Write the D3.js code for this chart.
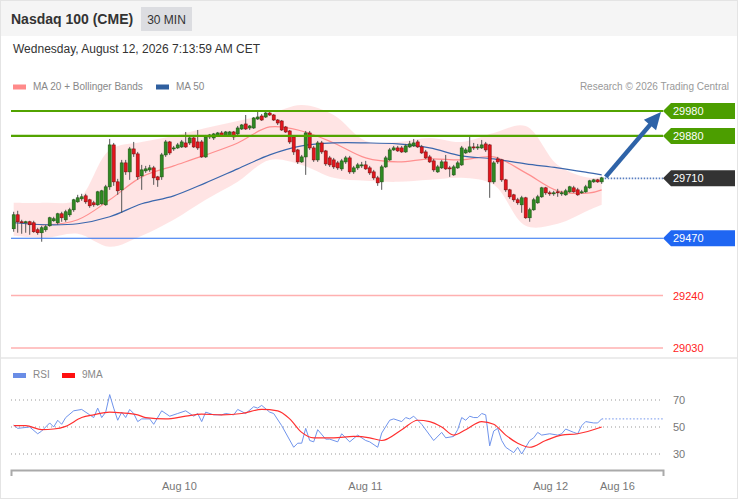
<!DOCTYPE html>
<html>
<head>
<meta charset="utf-8">
<script src="https://cdn.jsdelivr.net/npm/d3@7"></script>
<style>
  body { margin: 0; background: #fff; }
  svg { display: block; font-family: "Liberation Sans", Arial, sans-serif; }
</style>
</head>
<body>
<svg width="738" height="500"></svg>
<script>
// 30 min candles, Aug 7 -> Aug 12
const opens = [29508,29564,29536,29532,29536,29532,29504,29492,29504,29520,29540,29532,29568,29544,29564,29584,29616,29628,29640,29624,
  29612,29604,29608,29604,29676,29844,29696,29664,29772,29736,29828,29808,29720,29740,29744,29752,29716,29716,29804,29856,
  29828,29832,29836,29852,29852,29872,29856,29856,29796,29876,29872,29880,29892,29880,29880,29896,29888,29908,29928,29912,
  29912,29948,29960,29956,29972,29964,29944,29940,29916,29900,29876,29824,29776,29796,29892,29832,29784,29852,29820,29792,
  29784,29772,29748,29776,29792,29736,29752,29760,29764,29752,29736,29712,29696,29756,29784,29824,29832,29832,29816,29836,
  29840,29856,29836,29816,29796,29780,29736,29752,29776,29752,29724,29752,29764,29812,29816,29836,29832,29832,29848,29844,
  29696,29788,29784,29704,29664,29644,29624,29604,29632,29552,29584,29612,29636,29672,29652,29648,29656,29648,29644,29656,
  29672,29664,29652,29656,29672,29696,29704,29696]
const highs = [29576,29580,29544,29540,29540,29540,29512,29520,29524,29556,29556,29572,29576,29584,29592,29628,29644,29648,29648,29628,
  29620,29660,29664,29684,29868,29852,29708,29784,29784,29836,29856,29816,29764,29760,29764,29760,29720,29812,29864,29860,
  29840,29852,29864,29896,29880,29876,29904,29864,29884,29888,29892,29896,29900,29900,29900,29900,29920,29928,29964,29924,
  29956,29980,29968,29980,29976,29968,29948,29944,29920,29904,29880,29828,29804,29900,29900,29840,29860,29860,29824,29800,
  29792,29780,29788,29800,29800,29760,29772,29776,29780,29760,29744,29720,29764,29800,29832,29840,29840,29840,29848,29860,
  29868,29864,29844,29824,29804,29788,29764,29784,29804,29760,29764,29780,29840,29832,29876,29852,29848,29864,29856,29848,
  29780,29796,29788,29708,29668,29648,29632,29640,29636,29592,29632,29644,29676,29676,29660,29660,29668,29660,29668,29680,
  29680,29672,29664,29684,29704,29708,29708,29716]
const lows = [29496,29492,29488,29492,29484,29492,29484,29456,29496,29516,29536,29524,29536,29536,29556,29576,29612,29620,29608,29592,
  29596,29600,29604,29600,29664,29680,29644,29572,29724,29704,29796,29704,29664,29732,29736,29684,29676,29704,29796,29804,
  29820,29828,29832,29832,29844,29832,29824,29792,29792,29868,29864,29876,29876,29876,29876,29864,29884,29904,29904,29904,
  29908,29944,29940,29952,29960,29940,29924,29900,29892,29848,29804,29768,29772,29724,29824,29776,29776,29808,29760,29756,
  29748,29744,29740,29768,29728,29728,29744,29752,29744,29724,29704,29680,29664,29752,29780,29820,29816,29812,29812,29832,
  29836,29832,29808,29788,29772,29736,29732,29748,29744,29716,29720,29748,29760,29808,29812,29824,29824,29828,29816,29632,
  29688,29768,29696,29656,29628,29616,29604,29572,29548,29536,29580,29608,29632,29644,29640,29640,29636,29640,29640,29652,
  29652,29640,29648,29652,29668,29692,29692,29688]
const closes = [29564,29536,29532,29536,29524,29496,29492,29512,29516,29552,29548,29568,29552,29576,29584,29624,29632,29636,29616,29600,
  29604,29656,29660,29676,29844,29696,29660,29772,29736,29828,29808,29716,29744,29748,29752,29712,29704,29804,29856,29812,
  29832,29844,29856,29836,29872,29836,29832,29796,29876,29884,29888,29892,29880,29896,29896,29876,29912,29924,29908,29920,
  29952,29956,29944,29972,29964,29944,29932,29904,29896,29856,29816,29776,29796,29892,29832,29784,29852,29816,29768,29764,
  29756,29752,29780,29792,29736,29752,29764,29764,29748,29732,29712,29692,29756,29792,29824,29832,29820,29816,29840,29848,
  29852,29836,29812,29792,29776,29744,29756,29776,29748,29748,29756,29772,29832,29824,29836,29832,29836,29844,29824,29696,
  29772,29776,29704,29664,29636,29624,29612,29632,29552,29584,29624,29636,29672,29652,29648,29652,29652,29652,29660,29676,
  29656,29644,29656,29676,29700,29704,29696,29712]

// moving averages and bands, read at every 8th candle
const maIdx = [0,8,16,24,32,40,48,56,64,72,80,88,96,104,112,120,128,136,144,147]
const ma20 = [29536,29524,29544,29624,29716,29760,29804,29852,29916,29900,29852,29792,29776,29788,29784,29796,29732,29660,29652,29664]
const ma50 = [29532,29524,29528,29556,29608,29640,29692,29748,29804,29840,29852,29852,29848,29832,29800,29788,29768,29752,29732,29724]
const bbUp = [29612,29612,29624,29824,29856,29880,29912,29940,29968,30004,29964,29860,29856,29872,29856,29892,29920,29764,29712,29716]
const bbLow = [29480,29472,29488,29436,29480,29544,29624,29696,29784,29764,29712,29700,29696,29704,29712,29684,29520,29528,29584,29604]

const resistances = [29980, 29880]
const supports = [29470]
const minorSupports = [29240, 29030]
const lastPrice = 29710
const target = 29980

// RSI panel (candle index, value)
const rsiIdx = [0,1,4,6,7,9,10,11,12,13,15,17,19,20,21,22,23,24,25,26,27,28,29,30,31,32,34,35,37,39,41,43,45,46,47,48,50,52,53,55,56,58,60,61,62,64,65,67,
  70,71,72,73,74,75,76,78,79,81,82,84,86,88,89,91,92,94,95,97,98,99,100,102,105,107,108,110,111,112,113,114,115,116,117,118,119,120,121,122,123,124,125,126,127,
  129,130,131,132,134,136,137,138,140,141,142,143,145,146,147]
const rsiVal = [51.5,49,50,45,47,53,50,55,52,57,62,63,59,57,64,57,61,74,64,55,61,57,63,60,54,56,56,52,62,58,60,62,58,60,54,61,59,59,60,59,63,60,65,64,66,61,60,51,
  35,38,38,49,40,39,48,41,41,39,45,39,44,40,39,35,45.5,55,56,54,57,56,58,52,40,46,42,43,48,57,55,58,57,57,60,59,36,47,49,40,35,33,31,35,30,
  40,42,46,44,45,44,45,48.5,46,45,51,54,53,53,56]
const maRsiIdx = [0,3,7,10,13,17,20,24,27,31,33,38,43,47,52,57,62,66,69,72,75,80,85,89,92,97,101,104,107,110,113,117,120,123,126,129,133,137,141,147]
const maRsiVal = [51,51,48,48.5,50.5,57,59,61,60.5,59,57,56,58,59.5,59,60,63,62,56,46,42,42,43,42,40,48,55,54,50,44,48,54,52,44,38,35,40,44,45,50]
const rsiTicks = [70, 50, 30]

const dayIdx = [41.3, 87.8, 134.1, 150.8]
const dayLabels = ['Aug 10', 'Aug 11', 'Aug 12', 'Aug 16']

const svg = d3.select('svg')
const W = 738
const n = closes.length
const x = d3.scaleLinear().domain([0, n - 1]).range([13.7, 601.7])
const y = d3.scaleLinear().domain([29030, 29980]).range([348, 111])
const yR = d3.scaleLinear().domain([30, 70]).range([454, 400])
const xEnd = 663
const smooth = d3.curveCatmullRom.alpha(0.5)

// frame + header
svg.append('rect').attr('x', 0.5).attr('y', 0.5).attr('width', W - 1).attr('height', 498)
  .attr('fill', '#fff').attr('stroke', '#e4e4e4')
svg.append('rect').attr('x', 1).attr('y', 1).attr('width', W - 2).attr('height', 35).attr('fill', '#f5f5f5')
svg.append('text').attr('x', 11).attr('y', 24).text('Nasdaq 100 (CME)')
  .attr('font-size', 14).attr('font-weight', 'bold').attr('fill', '#333')
svg.append('rect').attr('x', 141).attr('y', 7).attr('width', 51).attr('height', 24).attr('fill', '#dcdde1')
svg.append('text').attr('x', 166.5).attr('y', 23.5).attr('text-anchor', 'middle').text('30 MIN')
  .attr('font-size', 12).attr('fill', '#333')
svg.append('text').attr('x', 13).attr('y', 53).text('Wednesday, August 12, 2026 7:13:59 AM CET')
  .attr('font-size', 12).attr('fill', '#333')
svg.append('rect').attr('x', 1).attr('y', 357).attr('width', W - 2).attr('height', 2).attr('fill', '#ececec')

// legends
function legend(lx, ly, color, label) {
  svg.append('rect').attr('x', lx).attr('y', ly - 5).attr('width', 13).attr('height', 5).attr('fill', color)
  svg.append('text').attr('x', lx + 20).attr('y', ly).text(label).attr('font-size', 10).attr('fill', '#888')
}
legend(13, 89.5, '#ff8a8a', 'MA 20 + Bollinger Bands')
legend(156, 89.5, '#2f5f9f', 'MA 50')
legend(13, 378, '#6a8de6', 'RSI')
legend(62, 378, '#ff1010', '9MA')
svg.append('text').attr('x', 729).attr('y', 90).attr('text-anchor', 'end')
  .text('Research \u00a9 2026 Trading Central').attr('font-size', 10).attr('fill', '#999')

// bollinger band + MAs
const mi = d3.range(maIdx.length)
svg.append('path').datum(mi)
  .attr('d', d3.area().x(i => x(maIdx[i])).y0(i => y(bbLow[i])).y1(i => y(bbUp[i])).curve(smooth))
  .attr('fill', '#ffe1e1').attr('opacity', 0.9)
svg.append('path').datum(mi)
  .attr('d', d3.line().x(i => x(maIdx[i])).y(i => y(ma20[i])).curve(smooth))
  .attr('fill', 'none').attr('stroke', '#ff8f8f').attr('stroke-width', 1.2)
svg.append('path').datum(mi)
  .attr('d', d3.line().x(i => x(maIdx[i])).y(i => y(ma50[i])).curve(smooth))
  .attr('fill', 'none').attr('stroke', '#3b67ad').attr('stroke-width', 1.2)

// candles
const candle = svg.append('g').selectAll('g').data(d3.range(n)).join('g')
candle.append('line')
  .attr('x1', i => x(i)).attr('x2', i => x(i))
  .attr('y1', i => y(highs[i])).attr('y2', i => y(lows[i]))
  .attr('stroke', '#555').attr('stroke-width', 1)
candle.append('rect')
  .attr('x', i => x(i) - 1.5).attr('width', 3)
  .attr('y', i => y(Math.max(opens[i], closes[i])))
  .attr('height', i => Math.max(1, Math.abs(y(opens[i]) - y(closes[i]))))
  .attr('fill', i => closes[i] >= opens[i] ? '#2f8a22' : '#e5141c')
  .attr('stroke', i => closes[i] >= opens[i] ? '#1d5612' : '#801010')
  .attr('stroke-width', 0.6)

// level lines
resistances.forEach(v => {
  svg.append('line').attr('x1', 11).attr('x2', xEnd).attr('y1', y(v)).attr('y2', y(v))
    .attr('stroke', '#52a300').attr('stroke-width', 2.2)
})
supports.forEach(v => {
  svg.append('line').attr('x1', 11).attr('x2', xEnd).attr('y1', y(v)).attr('y2', y(v))
    .attr('stroke', '#2a6ff0').attr('stroke-width', 1.2)
})
minorSupports.forEach(v => {
  svg.append('line').attr('x1', 11).attr('x2', xEnd).attr('y1', y(v)).attr('y2', y(v))
    .attr('stroke', '#ffb0b0').attr('stroke-width', 1.5)
  svg.append('text').attr('x', 673).attr('y', y(v) + 4).text(v)
    .attr('font-size', 11).attr('fill', '#ff2222')
})
svg.append('line').attr('x1', x(n - 1) + 3).attr('x2', xEnd).attr('y1', y(lastPrice)).attr('y2', y(lastPrice))
  .attr('stroke', '#5a7fc0').attr('stroke-width', 1.6).attr('stroke-dasharray', '1.5,1.5')

function tag(v, color) {
  const ty = y(v)
  svg.append('path')
    .attr('d', `M${xEnd},${ty} L${xEnd + 8},${ty - 8} L735,${ty - 8} L735,${ty + 8} L${xEnd + 8},${ty + 8} Z`)
    .attr('fill', color)
  svg.append('text').attr('x', 673).attr('y', ty + 4).text(v).attr('font-size', 11).attr('fill', '#fff')
}
resistances.forEach(v => tag(v, '#4c9e00'))
tag(lastPrice, '#333')
supports.forEach(v => tag(v, '#1f66f2'))

// target arrow
const sx = x(n - 1) + 4, sy = y(closes[n - 1]) - 1
const tx = 661, ty = y(target) + 1
const len = Math.hypot(tx - sx, ty - sy)
const ux = (tx - sx) / len, uy = (ty - sy) / len
svg.append('line').attr('x1', sx).attr('y1', sy).attr('x2', tx - 12 * ux).attr('y2', ty - 12 * uy)
  .attr('stroke', '#2e63a8').attr('stroke-width', 4.5)
svg.append('path')
  .attr('d', `M${tx},${ty} L${tx - 17 * ux - 8 * uy},${ty - 17 * uy + 8 * ux} L${tx - 17 * ux + 8 * uy},${ty - 17 * uy - 8 * ux} Z`)
  .attr('fill', '#2e63a8')

// RSI panel
rsiTicks.forEach(v => {
  svg.append('line').attr('x1', 11).attr('x2', xEnd).attr('y1', yR(v)).attr('y2', yR(v))
    .attr('stroke', '#999').attr('stroke-dasharray', '1,3')
  svg.append('text').attr('x', 673).attr('y', yR(v) + 4).text(v).attr('font-size', 11).attr('fill', '#777')
})
const ri = d3.range(rsiIdx.length)
svg.append('path').datum(ri)
  .attr('d', d3.line().x(i => x(rsiIdx[i])).y(i => yR(rsiVal[i])))
  .attr('fill', 'none').attr('stroke', '#7094ec').attr('stroke-width', 1)
svg.append('line').attr('x1', x(n - 1)).attr('x2', xEnd)
  .attr('y1', yR(rsiVal[rsiVal.length - 1])).attr('y2', yR(rsiVal[rsiVal.length - 1]))
  .attr('stroke', '#7094ec').attr('stroke-dasharray', '1.5,2')
const mr = d3.range(maRsiIdx.length)
svg.append('path').datum(mr)
  .attr('d', d3.line().x(i => x(maRsiIdx[i])).y(i => yR(maRsiVal[i])).curve(d3.curveMonotoneX))
  .attr('fill', 'none').attr('stroke', '#ff3030').attr('stroke-width', 1.2)

// x axis
const xAxisScale = x.copy().domain([x.invert(11), x.invert(xEnd)]).range([11, xEnd])
const axis = svg.append('g').attr('transform', 'translate(0,470)')
  .call(d3.axisBottom(xAxisScale).tickValues(dayIdx).tickFormat((d, i) => dayLabels[i])
    .tickSize(0).tickSizeOuter(6).tickPadding(12))
axis.select('.domain').attr('stroke', '#aaa').attr('stroke-width', 2)
axis.selectAll('text').attr('fill', '#777').attr('font-size', 11)
  .attr('font-family', '"Liberation Sans", Arial, sans-serif')
</script>
</body>
</html>
